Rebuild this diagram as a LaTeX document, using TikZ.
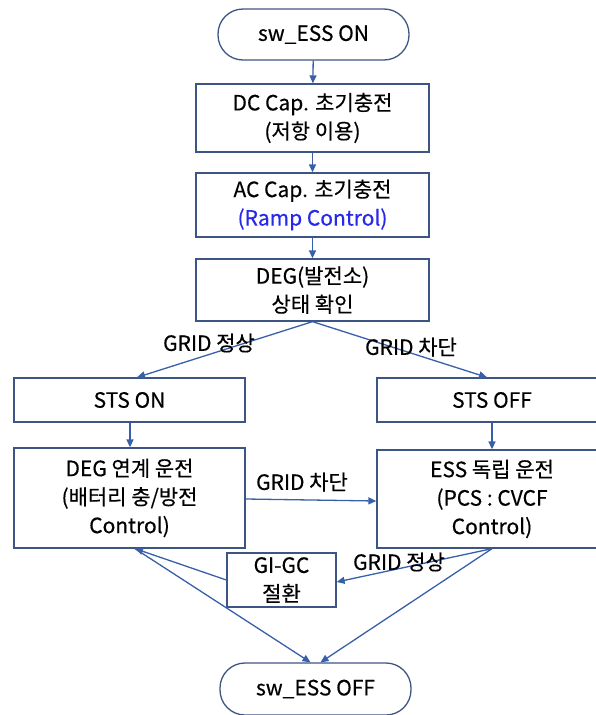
\documentclass[tikz,border=0pt]{standalone}
\usepackage{fontspec}
\setmainfont{Noto Sans CJK KR}[FakeBold=0.4]
\usetikzlibrary{arrows.meta}
\definecolor{boxc}{RGB}{60,85,130}
\definecolor{arrc}{RGB}{55,95,170}
\definecolor{rampc}{RGB}{40,40,235}
\begin{document}
\begin{tikzpicture}[x=1pt,y=-1pt,
  every node/.style={font=\fontsize{21}{28.5}\selectfont, text=black},
  box/.style={draw=boxc, line width=1.3pt, rectangle, align=center, inner sep=0pt},
  term/.style={draw=boxc, line width=1.3pt, rectangle, rounded corners=25pt, align=center, inner sep=0pt},
  arr/.style={draw=arrc, line width=1.3pt, -{Triangle[length=8pt,width=7pt]}},
  lbl/.style={inner sep=1pt}]
\useasboundingbox (0,0) rectangle (596,715);
\node[term, minimum width=191pt, minimum height=51pt] (start) at (313.5,34.5) {sw\_ESS ON};
\node[box, minimum width=233pt, minimum height=68pt] (dc) at (312.5,118) {DC Cap. 초기충전\\(저항 이용)};
\node[box, minimum width=233pt, minimum height=64pt] (ac) at (312.5,205) {AC Cap. 초기충전\\{\color{rampc}(Ramp Control)}};
\node[box, minimum width=233pt, minimum height=62pt] (deg) at (312.5,290) {DEG(발전소)\\상태 확인};
\node[box, minimum width=231pt, minimum height=44pt] (stson) at (129.5,400) {STS ON};
\node[box, minimum width=230pt, minimum height=44pt] (stsoff) at (492,400) {STS OFF};
\node[box, minimum width=231pt, minimum height=100pt] (degop) at (129.5,498) {DEG 연계 운전\\(배터리 충/방전\\Control)};
\node[box, minimum width=230pt, minimum height=98pt] (essop) at (492,499) {ESS 독립 운전\\(PCS : CVCF\\Control)};
\node[box, minimum width=109pt, minimum height=54pt] (gigc) at (281.5,580) {GI-GC\\절환};
\node[term, minimum width=191pt, minimum height=52pt] (end) at (315.5,689) {sw\_ESS OFF};

\draw[arr] (start) -- (dc);
\draw[arr] (dc) -- (ac);
\draw[arr] (ac) -- (deg);
\draw[arr] (deg.south) -- ([xshift=7.5pt]stson.north);
\draw[arr] (deg.south) -- ([xshift=-5pt]stsoff.north);
\node[lbl] (l1) at (209,343) {GRID 정상};
\node[lbl] (l2) at (411,347) {GRID 차단};
\draw[arr] ([xshift=0.5pt]stson.south) -- ([xshift=0.5pt]degop.north);
\draw[arr] (stsoff.south) -- (essop.north);
\draw[arr] ([yshift=-1pt]degop.east) -- ([yshift=-2pt]essop.west);
\node[lbl] (l3) at (302,482) {GRID 차단};
\draw[arr] (essop.south) -- ([yshift=-2pt]gigc.east);
\node[lbl] (l4) at (399,562) {GRID 정상};
\draw[arr] (gigc.west) -- ([xshift=5.5pt]degop.south);
\draw[arr] ([xshift=5.5pt]degop.south) -- ([xshift=-5pt]end.north);
\draw[arr] (essop.south) -- ([xshift=5pt]end.north);
\end{tikzpicture}
\end{document}
